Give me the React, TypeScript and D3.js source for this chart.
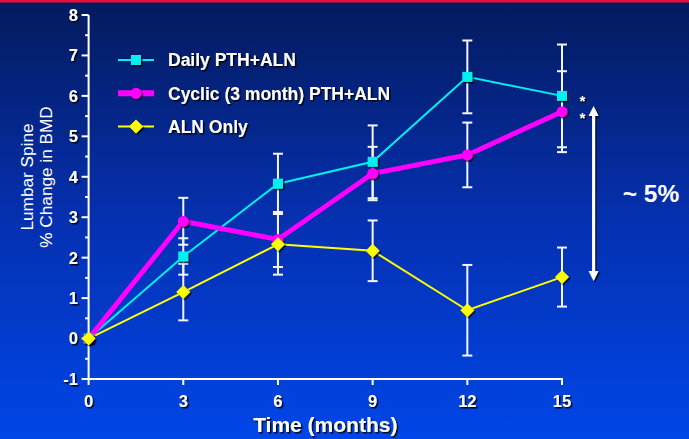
import * as d3 from "d3";

// months on the x axis
const months = [0, 3, 6, 9, 12, 15];
const xTicks = [0, 3, 6, 9, 12, 15];
const yTicks = [-1, 0, 1, 2, 3, 4, 5, 6, 7, 8];

// mean % change in lumbar spine BMD, with error bars
const dailyValues = [0, 2.03, 3.83, 4.37, 6.47, 6.0];
const dailyErrors = [0, 0.45, 0.74, 0.9, 0.9, 1.27];
const cyclicValues = [0, 2.9, 2.45, 4.08, 4.54, 5.61];
const cyclicErrors = [0, 0.58, 0.68, 0.66, 0.8, 1.0];
const alnValues = [0, 1.15, 2.33, 2.17, 0.7, 1.52];
const alnErrors = [0, 0.7, 0.75, 0.75, 1.12, 0.73];

const seriesNames = ["Daily PTH+ALN", "Cyclic (3 month) PTH+ALN", "ALN Only"];

const W = 689;
const H = 439;
const FONT = "'Liberation Sans', Arial, sans-serif";

export default function App() {
  const x = d3.scaleLinear().domain([0, 15]).range([88.6, 562]);
  const y = d3.scaleLinear().domain([-1, 8]).range([379, 15]);

  const series = [
    { name: seriesNames[0], values: dailyValues, errors: dailyErrors, color: "#00f0f0", width: 2, marker: "square" },
    { name: seriesNames[1], values: cyclicValues, errors: cyclicErrors, color: "#ff00ff", width: 5, marker: "circle" },
    { name: seriesNames[2], values: alnValues, errors: alnErrors, color: "#ffff00", width: 2, marker: "diamond" },
  ];

  const line = d3
    .line<number>()
    .x((_d, i) => x(months[i]))
    .y((d) => y(d));

  const drawMarker = (kind: string, cx: number, cy: number, color: string, key: string) => {
    if (kind === "square") {
      return <rect key={key} x={cx - 5} y={cy - 5} width={10} height={10} fill={color} filter="url(#shadow)" />;
    }
    if (kind === "circle") {
      return <circle key={key} cx={cx} cy={cy} r={5.5} fill={color} filter="url(#shadow)" />;
    }
    return (
      <path
        key={key}
        d={`M${cx},${cy - 7}L${cx + 7},${cy}L${cx},${cy + 7}L${cx - 7},${cy}Z`}
        fill={color}
        filter="url(#shadow)"
      />
    );
  };

  const textShadow = "url(#tshadow)";
  const minorTicks = d3.range(-1, 8, 0.5).filter((v) => v % 1 !== 0);

  // annotation arrow between groups at month 15
  const arrowX = x(16);
  const arrowTop = y(5.75);
  const arrowBottom = y(1.42);

  return (
    <svg width={W} height={H} style={{ position: "absolute", left: 0, top: 0 }} fontFamily={FONT}>
      <defs>
        <linearGradient id="bg" x1="0" y1="0" x2="0" y2="1">
          <stop offset="0" stopColor="#041a5c" />
          <stop offset="0.5" stopColor="#0530b0" />
          <stop offset="1" stopColor="#0046e8" />
        </linearGradient>
        <filter id="shadow" x="-50%" y="-50%" width="200%" height="200%">
          <feDropShadow dx="1.5" dy="1.5" stdDeviation="0.6" floodColor="#000" floodOpacity="0.8" />
        </filter>
        <filter id="tshadow" x="-20%" y="-20%" width="140%" height="140%">
          <feDropShadow dx="1.5" dy="1.5" stdDeviation="0.3" floodColor="#000" floodOpacity="0.9" />
        </filter>
      </defs>
      <rect width={W} height={H} fill="url(#bg)" />
      <rect width={W} height={2.5} fill="#e8103c" />

      {/* y axis */}
      <line x1={x(0)} x2={x(0)} y1={y(8)} y2={y(-1)} stroke="#fff" strokeWidth={2} />
      {yTicks.map((t) => (
        <g key={"yt" + t}>
          <line x1={x(0) - 7} x2={x(0)} y1={y(t)} y2={y(t)} stroke="#fff" strokeWidth={2} />
          <text
            x={78}
            y={y(t)}
            dy="0.36em"
            textAnchor="end"
            fill="#fff"
            fontSize={16.5}
            fontWeight="bold"
            filter={textShadow}
          >
            {t}
          </text>
        </g>
      ))}
      {minorTicks.map((t) => (
        <line key={"ym" + t} x1={x(0) - 3.5} x2={x(0)} y1={y(t)} y2={y(t)} stroke="#fff" strokeWidth={2} />
      ))}

      {/* x axis */}
      <line x1={x(0) - 1} x2={x(15) + 1} y1={y(-1)} y2={y(-1)} stroke="#fff" strokeWidth={2} />
      {xTicks.map((t) => (
        <g key={"xt" + t}>
          <line x1={x(t)} x2={x(t)} y1={y(-1)} y2={y(-1) + 6} stroke="#fff" strokeWidth={2} />
          <text
            x={x(t)}
            y={407}
            textAnchor="middle"
            fill="#fff"
            fontSize={16.5}
            fontWeight="bold"
            filter={textShadow}
          >
            {t}
          </text>
        </g>
      ))}

      <text
        x={(x(0) + x(15)) / 2}
        y={432}
        textAnchor="middle"
        fill="#fff"
        fontSize={21}
        fontWeight="bold"
        filter={textShadow}
      >
        Time (months)
      </text>

      <g transform={`translate(37,177) rotate(-90)`}>
        <text x={0} y={-4} textAnchor="middle" fill="#fff" fontSize={17.2}>
          Lumbar Spine
        </text>
        <text x={0} y={15} textAnchor="middle" fill="#fff" fontSize={17.2}>
          % Change in BMD
        </text>
      </g>

      {/* error bars */}
      {series.map((s) =>
        s.values.map((v, i) => {
          const e = s.errors[i];
          if (!e) return null;
          const cx = x(months[i]);
          return (
            <g key={s.name + "e" + i} stroke="#f4f6ff" strokeWidth={2}>
              <line x1={cx} x2={cx} y1={y(v + e)} y2={y(v - e)} />
              <line x1={cx - 5} x2={cx + 5} y1={y(v + e)} y2={y(v + e)} />
              <line x1={cx - 5} x2={cx + 5} y1={y(v - e)} y2={y(v - e)} />
            </g>
          );
        })
      )}

      {/* lines */}
      {series.map((s) => (
        <path key={s.name + "l"} d={line(s.values) || ""} fill="none" stroke={s.color} strokeWidth={s.width} />
      ))}
      {/* markers */}
      {series.map((s) => s.values.map((v, i) => drawMarker(s.marker, x(months[i]), y(v), s.color, s.name + "m" + i)))}

      {/* legend */}
      {series.map((s, i) => {
        const ly = 60 + i * 33.3;
        return (
          <g key={s.name + "lg"}>
            <line x1={118} x2={154} y1={ly} y2={ly} stroke={s.color} strokeWidth={s.width === 5 ? 6 : 2} />
            {drawMarker(s.marker, 136, ly, s.color, s.name + "lgm")}
            <text x={168} y={ly} dy="0.36em" fill="#fff" fontSize={17.5} fontWeight="bold" filter={textShadow}>
              {s.name}
            </text>
          </g>
        );
      })}

      {/* significance stars */}
      <text x={x(15.65)} y={y(6.02)} dy="0.75em" textAnchor="middle" fill="#fff" fontSize={15} fontWeight="bold" filter={textShadow}>
        *
      </text>
      <text x={x(15.65)} y={y(5.6)} dy="0.75em" textAnchor="middle" fill="#fff" fontSize={15} fontWeight="bold" filter={textShadow}>
        *
      </text>

      {/* double arrow */}
      <g fill="#fff" filter="url(#shadow)">
        <rect x={arrowX - 1.5} y={arrowTop + 9} width={3} height={arrowBottom - arrowTop - 18} />
        <path d={`M${arrowX},${arrowTop}L${arrowX + 5},${arrowTop + 10}L${arrowX - 5},${arrowTop + 10}Z`} />
        <path d={`M${arrowX},${arrowBottom}L${arrowX + 5},${arrowBottom - 10}L${arrowX - 5},${arrowBottom - 10}Z`} />
      </g>

      <text x={x(17.82)} y={y(3.6)} dy="0.36em" textAnchor="middle" fill="#fff" fontSize={24.5} fontWeight="bold">
        ~ 5%
      </text>
    </svg>
  );
}
